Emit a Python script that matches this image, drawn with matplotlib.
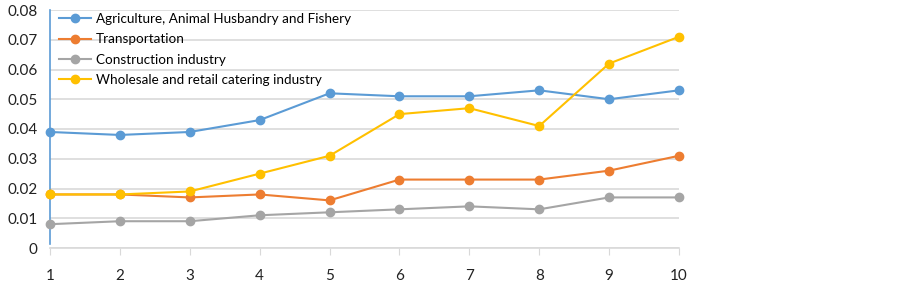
import matplotlib.pyplot as plt

plt.rcParams['font.family'] = ['Lato', 'DejaVu Sans']

years = [1, 2, 3, 4, 5, 6, 7, 8, 9, 10]
agriculture = [0.039, 0.038, 0.039, 0.043, 0.052, 0.051, 0.051, 0.053, 0.050, 0.053]
transportation = [0.018, 0.018, 0.017, 0.018, 0.016, 0.023, 0.023, 0.023, 0.026, 0.031]
construction = [0.008, 0.009, 0.009, 0.011, 0.012, 0.013, 0.014, 0.013, 0.017, 0.017]
wholesale = [0.018, 0.018, 0.019, 0.025, 0.031, 0.045, 0.047, 0.041, 0.062, 0.071]

series = [
    ("Agriculture, Animal Husbandry and Fishery", agriculture, "#5B9BD5"),
    ("Transportation", transportation, "#ED7D31"),
    ("Construction industry", construction, "#A5A5A5"),
    ("Wholesale and retail catering industry", wholesale, "#FFC000"),
]
y_ticks = [0, 0.01, 0.02, 0.03, 0.04, 0.05, 0.06, 0.07, 0.08]
y_labels = ["0", "0.01", "0.02", "0.03", "0.04", "0.05", "0.06", "0.07", "0.08"]

fig = plt.figure(figsize=(9.03, 2.83), dpi=100)
ax = fig.add_axes([50 / 903, 1 - 248 / 283, 629 / 903, 238 / 283])

for label, vals, color in series:
    ax.plot(years, vals, color=color, lw=1.5, marker='o', markersize=6,
            label=label, clip_on=False, zorder=3)

ax.set_xlim(1, 10)
ax.set_ylim(0, 0.08)
ax.set_yticks(y_ticks)
ax.set_yticklabels(y_labels)
ax.set_xticks(years)
ax.grid(axis='y', color='#D9D9D9', lw=1.2)
ax.set_axisbelow(True)

for s in ['top', 'right']:
    ax.spines[s].set_visible(False)
ax.spines['left'].set_color('#5B9BD5')
ax.spines['left'].set_linewidth(1.2)
ax.spines['left'].set_bounds(0.0015, 0.08)
ax.spines['bottom'].set_color('#D9D9D9')
ax.spines['bottom'].set_linewidth(1.2)

ax.tick_params(axis='y', length=0, pad=9, labelsize=11, labelcolor='#222222')
ax.tick_params(axis='x', length=5, color='#D9D9D9', pad=10, labelsize=11,
               labelcolor='#222222')

ax.legend(loc='upper left', bbox_to_anchor=(0.005, 1.01), frameon=False,
          fontsize=9.7, handlelength=2.4, handletextpad=0.35, labelspacing=0.62,
          borderaxespad=0)

fig.savefig("out.png", dpi=100)
